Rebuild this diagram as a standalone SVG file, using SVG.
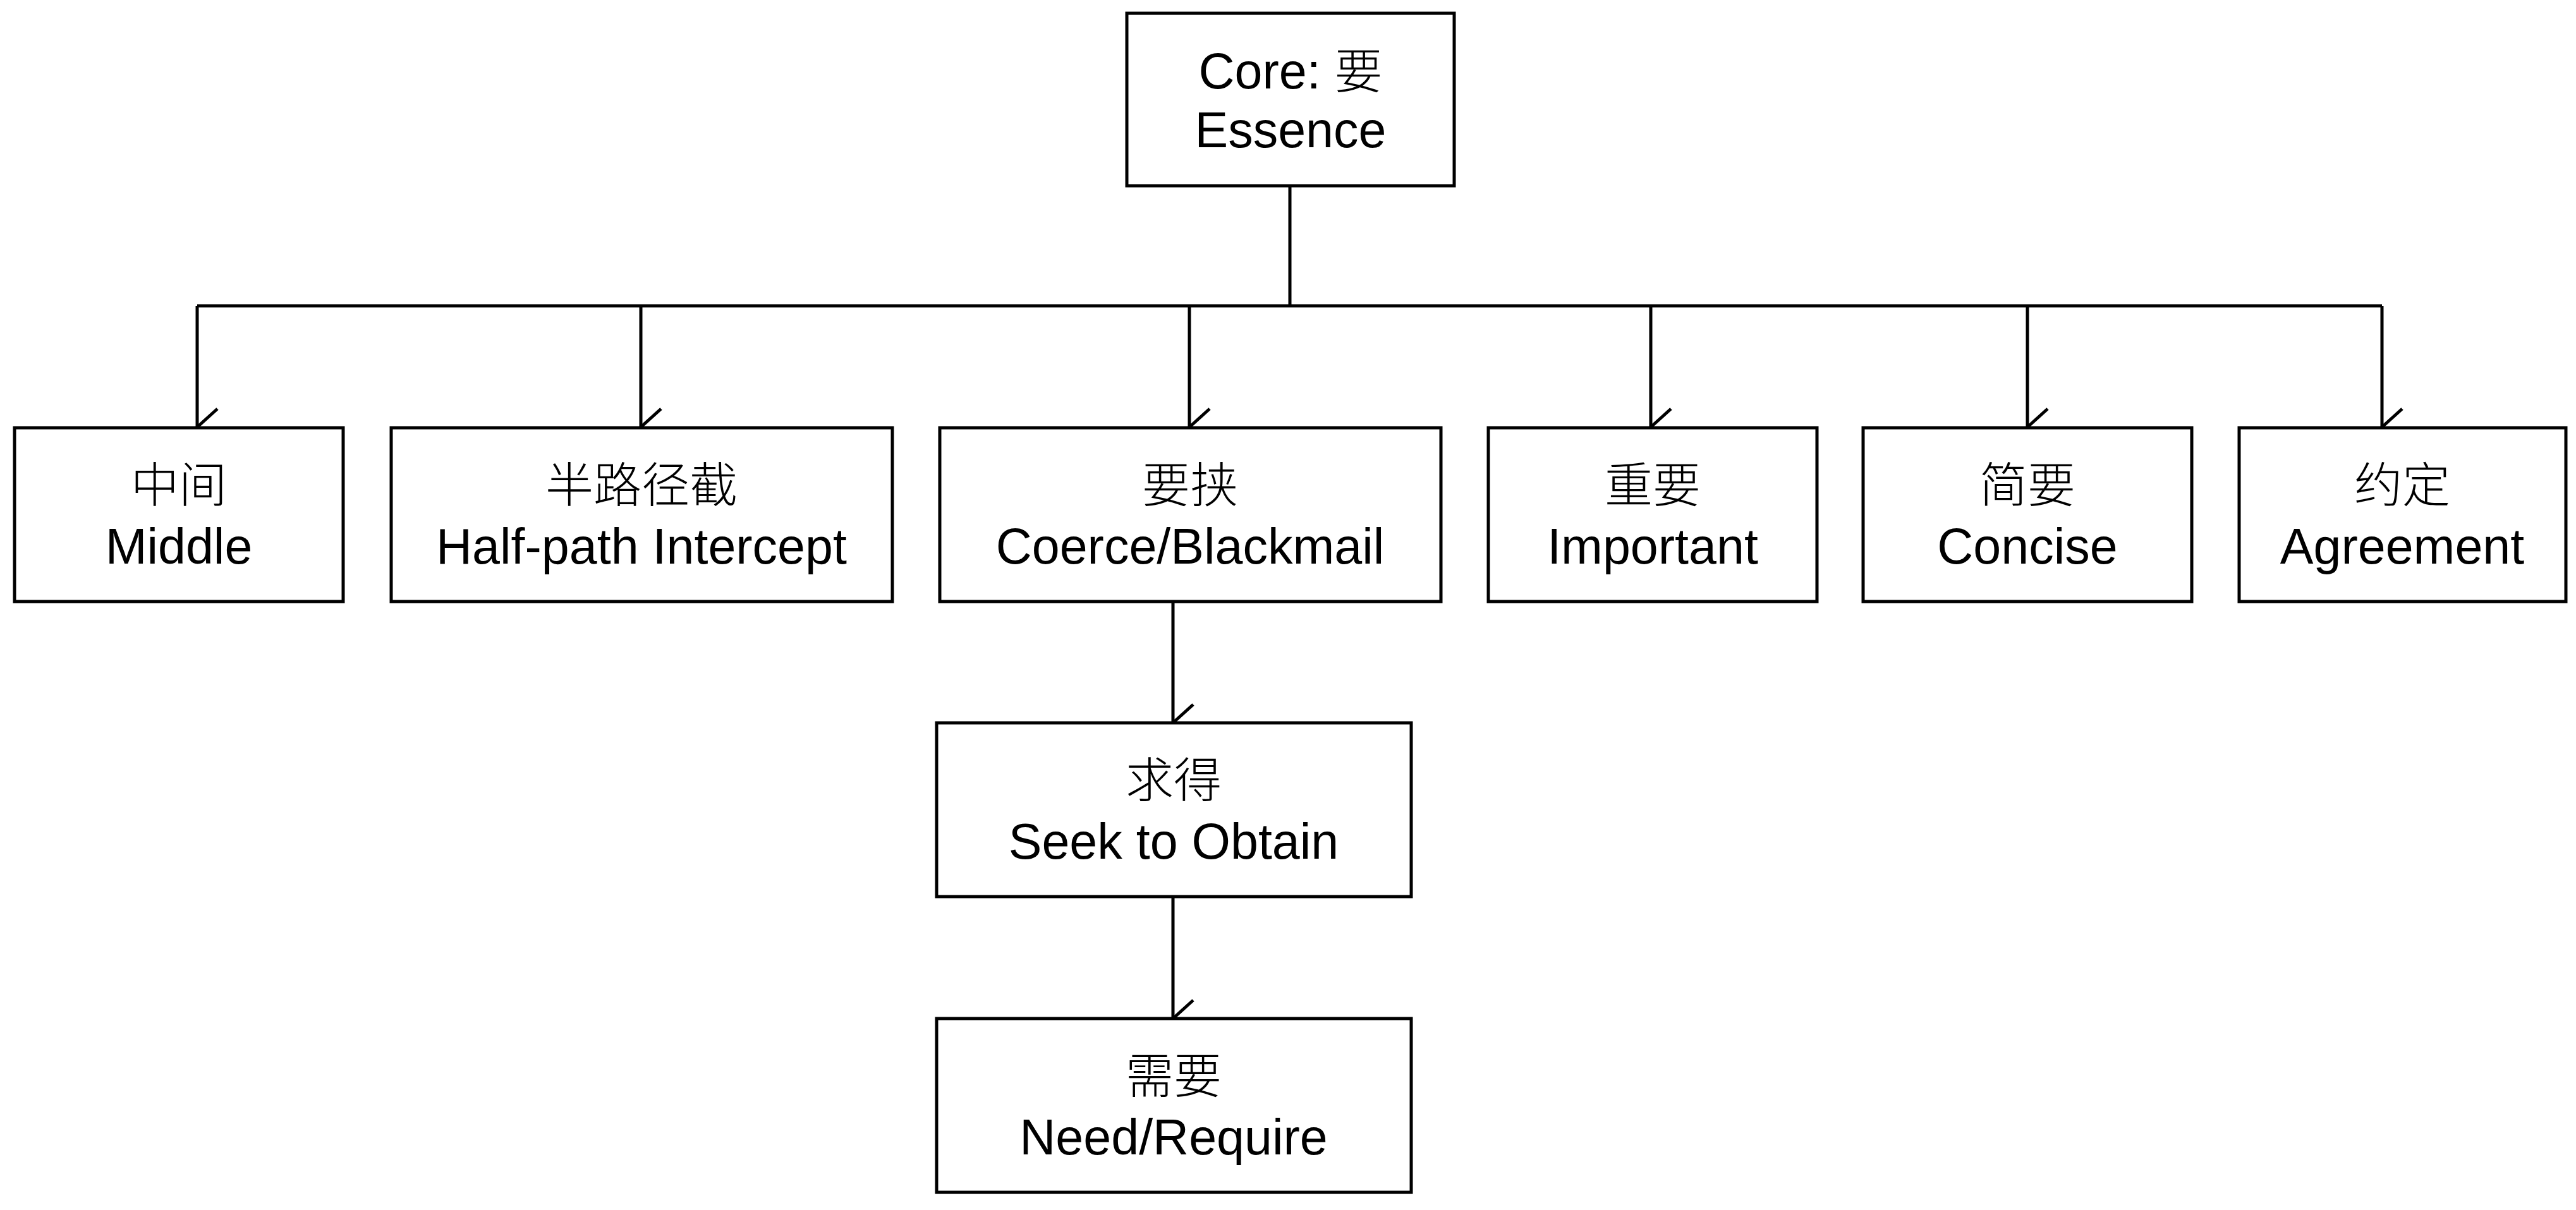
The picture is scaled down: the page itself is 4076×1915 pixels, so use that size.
<svg xmlns="http://www.w3.org/2000/svg" width="4076" height="1915" viewBox="0 0 4076 1915">
<style>
.b{fill:#fff;stroke:#000;stroke-width:5}
.c{font-family:"Noto Sans CJK SC",sans-serif;font-weight:300;font-size:76px;text-anchor:middle;fill:#000}
.e{font-family:"Liberation Sans",Arial,sans-serif;font-size:79px;text-anchor:middle;fill:#000}
.l{fill:none;stroke:#000;stroke-width:5}
</style>
<defs><marker id="a" markerUnits="userSpaceOnUse" markerWidth="70" markerHeight="40" refX="30" refY="34" orient="auto-start-reverse" viewBox="0 0 60 40"><path d="M1,2 L30,34 L59,2" fill="none" stroke="#000" stroke-width="5"/></marker></defs>
<rect width="4076" height="1915" fill="#fff"/>
<g id="connectors">
<path class="l" d="M2041,294 V484"/>
<path class="l" d="M312,484 H3769"/>
<path class="l" d="M312,484 V676" marker-end="url(#a)"/>
<path class="l" d="M1014,484 V676" marker-end="url(#a)"/>
<path class="l" d="M1882,484 V676" marker-end="url(#a)"/>
<path class="l" d="M2612,484 V676" marker-end="url(#a)"/>
<path class="l" d="M3208,484 V676" marker-end="url(#a)"/>
<path class="l" d="M3769,484 V676" marker-end="url(#a)"/>
<path class="l" d="M1856,951 V1144" marker-end="url(#a)"/>
<path class="l" d="M1856,1419 V1612" marker-end="url(#a)"/>
</g>
<g id="core"><rect class="b" x="1783" y="21" width="518" height="273"/><text class="e" x="2042" y="140">Core: <tspan class="c" style="font-size:76px">要</tspan></text><text class="e" x="2042" y="233">Essence</text></g>
<g id="n1"><rect class="b" x="23" y="677" width="520" height="275"/><text class="c" x="283" y="795">中间</text><text class="e" x="283" y="892">Middle</text></g>
<g id="n2"><rect class="b" x="619" y="677" width="793" height="275"/><text class="c" x="1015" y="795">半路径截</text><text class="e" x="1015" y="892">Half-path Intercept</text></g>
<g id="n3"><rect class="b" x="1487" y="677" width="793" height="275"/><text class="c" x="1883" y="795">要挟</text><text class="e" x="1883" y="892">Coerce/Blackmail</text></g>
<g id="n4"><rect class="b" x="2355" y="677" width="520" height="275"/><text class="c" x="2615" y="795">重要</text><text class="e" x="2615" y="892">Important</text></g>
<g id="n5"><rect class="b" x="2948" y="677" width="520" height="275"/><text class="c" x="3208" y="795">简要</text><text class="e" x="3208" y="892">Concise</text></g>
<g id="n6"><rect class="b" x="3543" y="677" width="517" height="275"/><text class="c" x="3801" y="795">约定</text><text class="e" x="3801" y="892">Agreement</text></g>
<g id="n7"><rect class="b" x="1482" y="1144" width="751" height="275"/><text class="c" x="1857" y="1262">求得</text><text class="e" x="1857" y="1359">Seek to Obtain</text></g>
<g id="n8"><rect class="b" x="1482" y="1612" width="751" height="275"/><text class="c" x="1857" y="1730">需要</text><text class="e" x="1857" y="1827">Need/Require</text></g>
</svg>
